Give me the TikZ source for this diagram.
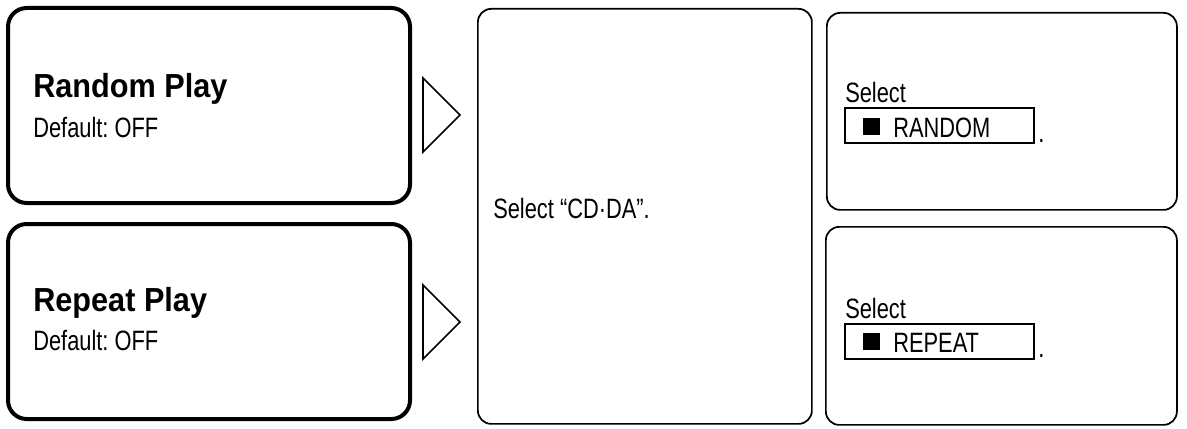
\documentclass[tikz,border=0pt]{standalone}
\usepackage{fontspec}
\setmainfont{Liberation Sans}[FakeStretch=0.78]
\newfontfamily\titlefont{Liberation Sans}[FakeStretch=0.92]
\frenchspacing
\usetikzlibrary{positioning}
\tikzset{
    modeblock/.style={draw, line width=3pt, rounded corners=14pt, minimum width=402*0.75pt, minimum height=195*0.75pt, inner sep=0pt, anchor=north west},
    stepblock/.style={draw, line width=1.3pt, rounded corners=10pt, inner sep=0pt, anchor=north west},
    menubar/.style={draw, line width=1.3pt, minimum width=189*0.75pt, minimum height=35*0.75pt, inner sep=0pt, anchor=north west},
    modetitle/.style={anchor=base west, inner sep=0pt, font=\titlefont\fontsize{25pt}{28pt}\selectfont\bfseries},
    steptext/.style={anchor=base west, inner sep=0pt, font=\fontsize{21pt}{24pt}\selectfont},
    steparrow/.style={line width=1.3pt, line join=miter}
}
\begin{document}
\begin{tikzpicture}[x=0.75pt, y=-0.75pt]
    \useasboundingbox (0,0) rectangle (1187,428);
    % left column
    \node[modeblock] (randombox) at (6,6) {};
    \node[modeblock] (repeatbox) at (6,222) {};
    \node[modetitle] (randomtitle) at (33,97) {Random Play};
    \node[steptext] (randomdef) at (33,137) {Default: OFF};
    \node[modetitle] (repeattitle) at (33,311) {Repeat Play};
    \node[steptext] (repeatdef) at (33,350) {Default: OFF};
    \draw[steparrow] (423,78) -- (460,115) -- (423,152) -- cycle;
    \draw[steparrow] (423,285) -- (460,322) -- (423,359) -- cycle;
    % middle step
    \node[stepblock, minimum width=334*0.75pt, minimum height=415*0.75pt] (cdbox) at (477,8) {};
    \node[steptext] (cdtext) at (493,218) {Select “CD·DA”.};
    % right steps
    \node[stepblock, minimum width=350*0.75pt, minimum height=197*0.75pt] (randomstep) at (826,12) {};
    \node[stepblock, minimum width=351*0.75pt, minimum height=198*0.75pt] (repeatstep) at (825,226) {};
    \node[steptext] (randomsel) at (845,103) {Select};
    \node[menubar] (randombar) at (844,107) {};
    \fill (863,118) rectangle (880,135);
    \node[steptext] (randomitem) at (893,137) {RANDOM};
    \node[steptext] (randomdot) at (1038,142) {.};
    \node[steptext] (repeatsel) at (845,318) {Select};
    \node[menubar] (repeatbar) at (844,323) {};
    \fill (863,333) rectangle (880,350);
    \node[steptext] (repeatitem) at (893,352) {REPEAT};
    \node[steptext] (repeatdot) at (1038,357) {.};
\end{tikzpicture}
\end{document}
